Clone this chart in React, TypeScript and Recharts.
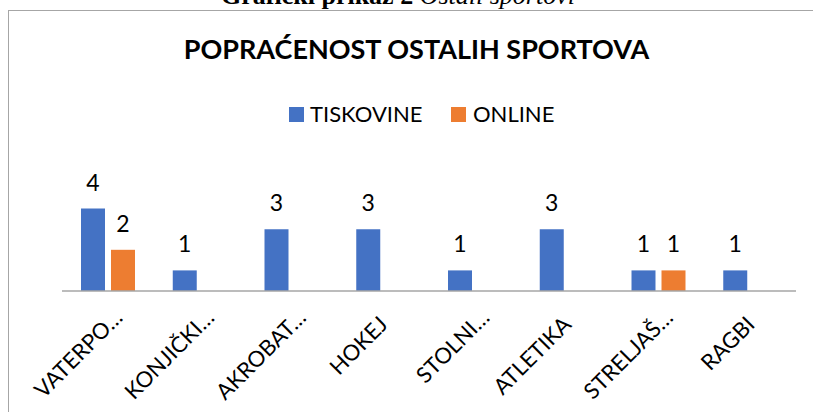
import { BarChart, Bar, XAxis, YAxis, LabelList } from 'recharts';

const categories = ['VATERPO…', 'KONJIČKI…', 'AKROBAT…', 'HOKEJ', 'STOLNI…', 'ATLETIKA', 'STRELJAŠ…', 'RAGBI'];
const tiskovine = [4, 1, 3, 3, 1, 3, 1, 1];
const online = [2, null, null, null, null, null, 1, null];
const seriesNames = ['TISKOVINE', 'ONLINE'];
const seriesColors = ['#4472C4', '#ED7D31'];

const data = categories.map((name, i) => ({
  name,
  tiskovine: tiskovine[i],
  online: online[i],
}));

const FONT = 'Lato, "Open Sans", sans-serif';

const RotatedTick = ({ x, y, payload }: any) => {
  const label: string = payload.value;
  const cut = label.endsWith('…');
  const ax = x + (cut ? 16 : 6);
  const ay = y + (cut ? 20 : 27);
  return (
    <text
      x={ax}
      y={ay}
      textAnchor="end"
      transform={`rotate(-45, ${ax}, ${ay})`}
      fontFamily={FONT}
      fontSize={22}
      fill="#000"
    >
      {label}
    </text>
  );
};

const App = () => {
  return (
    <div
      style={{
        position: 'absolute',
        left: 0,
        top: 0,
        width: 813,
        height: 412,
        overflow: 'hidden',
        background: '#fff',
        fontFamily: FONT,
      }}
    >
      <svg width={813} height={20} style={{ position: 'absolute', left: 0, top: 0 }}>
        <text x={398} y={4} textAnchor="middle" fontFamily='"Liberation Serif", serif' fontSize={26}>
          <tspan fontWeight="bold">Grafički prikaz 2 </tspan>
          <tspan fontStyle="italic">Ostali sportovi</tspan>
        </text>
      </svg>
      <div
        style={{
          position: 'absolute',
          left: 8,
          top: 10,
          width: 830,
          height: 430,
          border: '1px solid #a6a6a6',
        }}
      />
      <svg width={813} height={140} style={{ position: 'absolute', left: 0, top: 0 }}>
        <text x={416.5} y={59} textAnchor="middle" fontFamily={FONT} fontWeight="bold" fontSize={27} fill="#000">
          POPRAĆENOST OSTALIH SPORTOVA
        </text>
        <rect x={289} y={107} width={15} height={15} fill={seriesColors[0]} />
        <text x={310} y={122} fontFamily={FONT} fontSize={22} fill="#000">
          {seriesNames[0]}
        </text>
        <rect x={451} y={107} width={15} height={15} fill={seriesColors[1]} />
        <text x={473} y={122} fontFamily={FONT} fontSize={22} fill="#000">
          {seriesNames[1]}
        </text>
      </svg>
      <div style={{ position: 'absolute', left: 0, top: 0 }}>
        <BarChart
          width={813}
          height={412}
          data={data}
          margin={{ top: 188, right: 17, left: 62, bottom: 61 }}
          barSize={24}
          barGap={6}
        >
          <XAxis
            dataKey="name"
            height={60}
            interval={0}
            tickLine={false}
            axisLine={{ stroke: '#a6a6a6', strokeWidth: 1.5 }}
            tick={<RotatedTick />}
          />
          <YAxis hide domain={[0, 5]} />
          <Bar dataKey="tiskovine" name={seriesNames[0]} fill={seriesColors[0]} isAnimationActive={false}>
            <LabelList dataKey="tiskovine" position="top" offset={18} fontFamily={FONT} fontSize={23} fill="#000" />
          </Bar>
          <Bar dataKey="online" name={seriesNames[1]} fill={seriesColors[1]} isAnimationActive={false}>
            <LabelList dataKey="online" position="top" offset={18} fontFamily={FONT} fontSize={23} fill="#000" />
          </Bar>
        </BarChart>
      </div>
    </div>
  );
};

export default App;
